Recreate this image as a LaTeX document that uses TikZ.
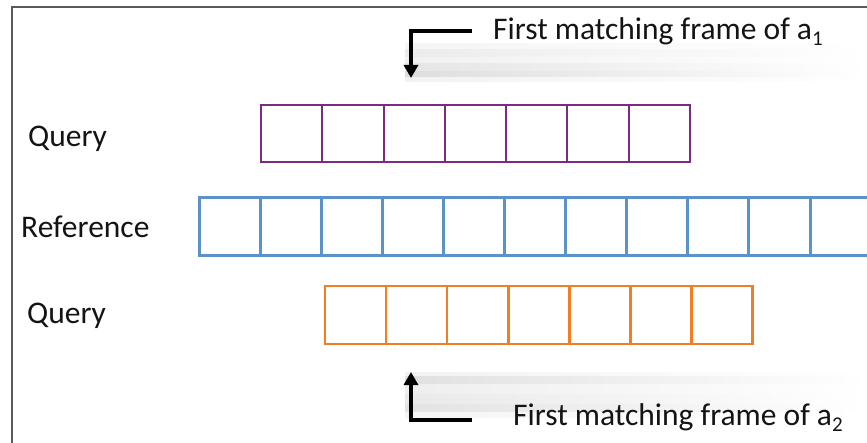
\documentclass[tikz,border=0pt]{standalone}
\usepackage{fontspec}
\setmainfont{Carlito}
\usetikzlibrary{arrows.meta}
\definecolor{qpurple}{RGB}{123,43,128}
\definecolor{rblue}{RGB}{91,146,199}
\definecolor{qorange}{RGB}{242,125,34}
\definecolor{txt}{RGB}{20,20,20}
\definecolor{framec}{RGB}{90,90,90}
\tikzset{
  cellP/.style={draw=qpurple,line width=2pt,minimum width=61.29pt,minimum height=57pt,inner sep=0pt},
  cellB/.style={draw=rblue,line width=3pt,minimum width=61.1pt,minimum height=58pt,inner sep=0pt},
  cellO/.style={draw=qorange,line width=2.5pt,minimum width=61.1pt,minimum height=58pt,inner sep=0pt},
  lbl/.style={font=\fontsize{31.5}{37}\selectfont,text=txt,anchor=base west,inner sep=0pt},
  pointer/.style={line width=4.5pt,black,-{Triangle[width=14pt,length=13pt]}},
  streak/.style={draw=none,left color=gray!#1,right color=white}
}
\newcommand{\subn}[1]{\raisebox{-6pt}{\fontsize{21}{21}\selectfont #1}}
\begin{document}
\begin{tikzpicture}[x=1pt,y=-1pt]
\useasboundingbox (0,0) rectangle (867,443);
% frame
\draw[framec,line width=1.6pt] (12,443) -- (12,7) -- (867,7);
% shadow streaks (top)
\shade[streak=8] (405,44) rectangle (867,50);
\shade[streak=15] (405,50) rectangle (867,58);
\shade[streak=11] (405,58) rectangle (867,64);
\shade[streak=20] (405,64) rectangle (867,72);
\shade[streak=26] (405,72) rectangle (867,78);
\shade[streak=10] (405,78) rectangle (867,82);
% shadow streaks (bottom)
\shade[streak=10] (405,372) rectangle (867,376);
\shade[streak=24] (405,376) rectangle (867,384);
\shade[streak=13] (405,384) rectangle (867,394);
\shade[streak=17] (405,394) rectangle (867,404);
\shade[streak=22] (405,404) rectangle (867,412);
\shade[streak=8] (405,412) rectangle (867,417);
% cells
\foreach \i in {0,...,6}{
  \node[cellP] (p\i) at ({261+30.645+61.29*\i},133.5) {};
}
\foreach \i in {0,...,10}{
  \node[cellB] (b\i) at ({199+30.55+61.1*\i},227) {};
}
\foreach \i in {0,...,6}{
  \node[cellO] (o\i) at ({325+30.55+61.1*\i},315) {};
}
% labels
\node[lbl] (lq1) at (28,147) {Query};
\node[lbl] (lr) at (21,238) {Reference};
\node[lbl] (lq2) at (27,324) {Query};
% pointers
\coordinate (t0) at (472,31);
\coordinate (t1) at (411,31);
\coordinate (t2) at (411,78);
\draw[pointer] (t0) -- (t1) -- (t2);
\coordinate (u0) at (472,420);
\coordinate (u1) at (411,420);
\coordinate (u2) at (411,372);
\draw[pointer] (u0) -- (u1) -- (u2);
\node[lbl] (ta) at (493,40) {First matching frame of a\subn{1}};
\node[lbl] (tb) at (513,425) {First matching frame of a\subn{2}};
\end{tikzpicture}
\end{document}
